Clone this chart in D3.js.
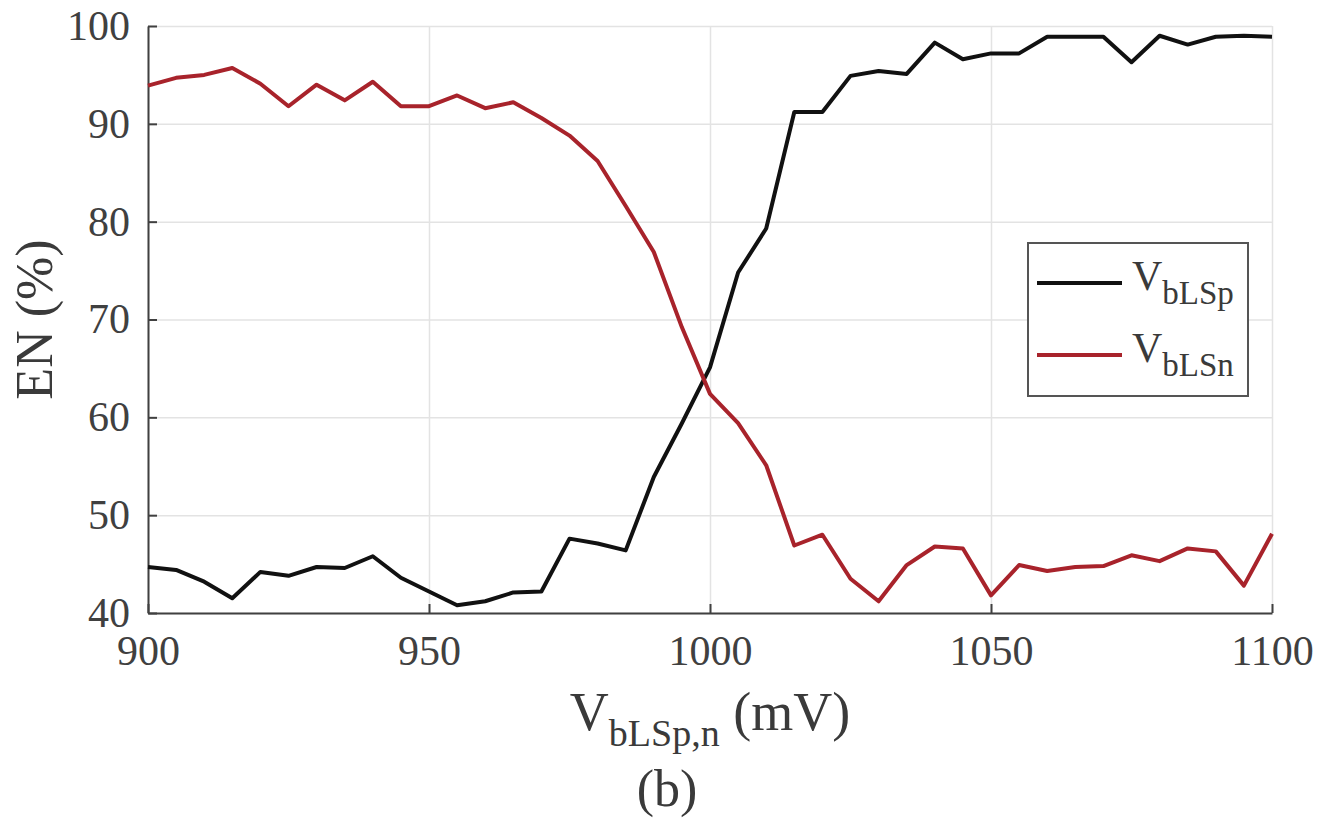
<!DOCTYPE html>
<html>
  <head>
    <meta charset="utf-8">
    <script src="https://d3js.org/d3.v7.min.js"></script>
    <style>
      body { margin: 0; background: #fff; }
      text { font-family: "Liberation Serif", "Times New Roman", serif; fill: #3a3a3a; }
      .grid line { stroke: #e3e3e3; stroke-width: 1.5; }
      .grid path { display: none; }
      .axis path, .axis line { stroke: #404040; stroke-width: 2; }
      .axis text { font-size: 42px; fill: #404040; }
    </style>
    <title>EN vs VbLSp,n</title>
  </head>
  <body>
    <div class="chart"></div>
    <script>

      // data (mV, %)
      var voltages = d3.range(900, 1101, 5);
      var vbLSp = [44.7, 44.4, 43.2, 41.5, 44.2, 43.8, 44.7, 44.6, 45.8, 43.6,
                   42.2, 40.8, 41.2, 42.1, 42.2, 47.6, 47.1, 46.4, 53.9, 59.4,
                   65.1, 74.8, 79.3, 91.2, 91.2, 94.9, 95.4, 95.1, 98.3, 96.6,
                   97.2, 97.2, 98.9, 98.9, 98.9, 96.3, 99.0, 98.1, 98.9, 99.0, 98.9];
      var vbLSn = [93.9, 94.7, 95.0, 95.7, 94.1, 91.8, 94.0, 92.4, 94.3, 91.8,
                   91.8, 92.9, 91.6, 92.2, 90.6, 88.8, 86.2, 81.6, 76.9, 69.2,
                   62.4, 59.4, 55.1, 46.9, 48.0, 43.5, 41.2, 44.9, 46.8, 46.6,
                   41.8, 44.9, 44.3, 44.7, 44.8, 45.9, 45.3, 46.6, 46.3, 42.8, 48.1];
      var xTicks = [900, 950, 1000, 1050, 1100];
      var yTicks = [40, 50, 60, 70, 80, 90, 100];

      var series = [
        {name: "p", values: vbLSp, color: "#111111"},
        {name: "n", values: vbLSn, color: "#a8232b"}
      ];

      var width = 1332, height = 820;
      var margin = {top: 26, right: 60, bottom: 207, left: 148};

      var svg = d3.select(".chart").append("svg")
          .attr("width", width)
          .attr("height", height);

      var x = d3.scaleLinear().domain([900, 1100]).range([margin.left, width - margin.right]);
      var y = d3.scaleLinear().domain([40, 100]).range([height - margin.bottom, margin.top]);

      // grid
      svg.append("g").attr("class", "grid")
          .attr("transform", "translate(0," + y(40) + ")")
          .call(d3.axisBottom(x).tickValues(xTicks).tickSize(-(y(40) - y(100))).tickFormat(""));
      svg.append("g").attr("class", "grid")
          .attr("transform", "translate(" + x(900) + ",0)")
          .call(d3.axisLeft(y).tickValues(yTicks).tickSize(-(x(1100) - x(900))).tickFormat(""));

      // axes
      svg.append("g").attr("class", "axis")
          .attr("transform", "translate(0," + y(40) + ")")
          .call(d3.axisBottom(x).tickValues(xTicks).tickFormat(d3.format("d"))
            .tickSizeInner(-9).tickSizeOuter(0).tickPadding(22));
      svg.append("g").attr("class", "axis")
          .attr("transform", "translate(" + x(900) + ",0)")
          .call(d3.axisLeft(y).tickValues(yTicks).tickFormat(d3.format("d"))
            .tickSizeInner(-9).tickSizeOuter(0).tickPadding(18));

      // lines
      var line = d3.line()
          .x(function(d, i) { return x(voltages[i]); })
          .y(function(d) { return y(d); });

      svg.selectAll(".series")
        .data(series)
        .enter().append("path")
          .attr("class", "series")
          .attr("fill", "none")
          .attr("stroke", function(d) { return d.color; })
          .attr("stroke-width", 4)
          .attr("stroke-linejoin", "round")
          .attr("d", function(d) { return line(d.values); });

      // axis labels
      svg.append("text")
          .attr("transform", "translate(52," + ((y(40) + y(100)) / 2) + ") rotate(-90)")
          .attr("text-anchor", "middle")
          .attr("font-size", 52)
          .text("EN (%)");

      var xl = svg.append("text")
          .attr("x", 710)
          .attr("y", 730)
          .attr("text-anchor", "middle")
          .attr("font-size", 54);
      xl.append("tspan").text("V");
      xl.append("tspan").attr("font-size", 38).attr("dy", 16).text("bLSp,n");
      xl.append("tspan").attr("dy", -16).text(" (mV)");

      svg.append("text")
          .attr("x", 667)
          .attr("y", 806)
          .attr("text-anchor", "middle")
          .attr("font-size", 52)
          .text("(b)");

      // legend
      var legend = svg.append("g").attr("transform", "translate(1028,243)");
      legend.append("rect")
          .attr("width", 220)
          .attr("height", 153)
          .attr("fill", "#fff")
          .attr("stroke", "#555")
          .attr("stroke-width", 2);

      var item = legend.selectAll(".item")
        .data(series)
        .enter().append("g")
          .attr("class", "item")
          .attr("transform", function(d, i) { return "translate(0," + (40 + i * 72) + ")"; });

      item.append("line")
          .attr("x1", 9).attr("x2", 94)
          .attr("stroke", function(d) { return d.color; })
          .attr("stroke-width", 4);

      var lt = item.append("text")
          .attr("x", 104)
          .attr("y", 7)
          .attr("font-size", 42)
          .attr("fill", "#111");
      lt.append("tspan").text("V");
      lt.append("tspan").attr("font-size", 33).attr("dy", 14).text(function(d) { return "bLS" + d.name; });

    </script>
  </body>
</html>
